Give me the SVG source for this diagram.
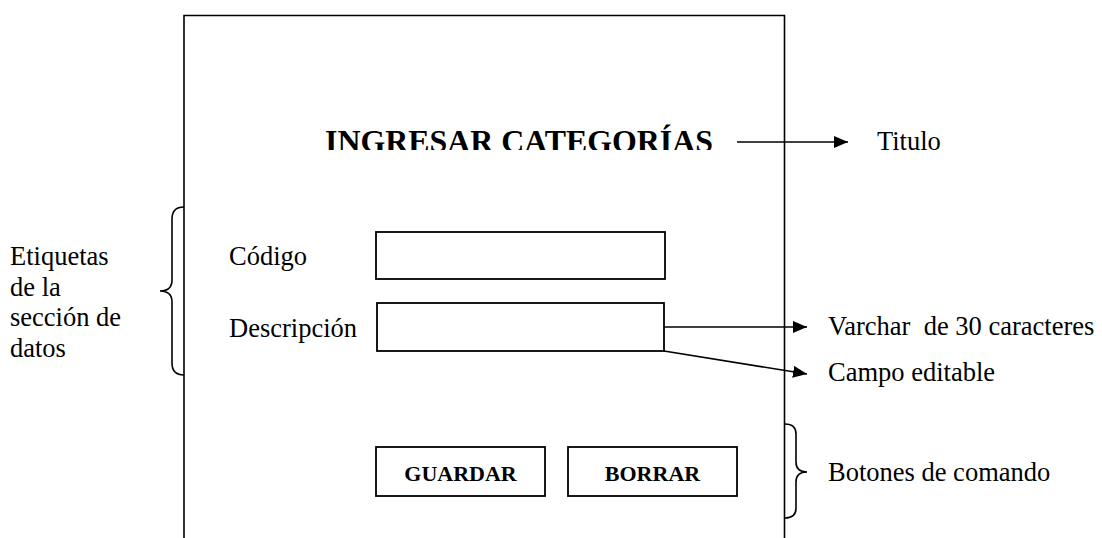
<svg xmlns="http://www.w3.org/2000/svg" width="1102" height="538" viewBox="0 0 1102 538">
<style>
.t{font-family:"Liberation Serif","Times New Roman",serif;font-size:26.5px;fill:#000}
.b{font-family:"Liberation Serif","Times New Roman",serif;font-weight:bold;fill:#000}
.box{fill:#fff;stroke:#000;stroke-width:1.8}
.ln{fill:none;stroke:#000;stroke-width:1.6}
</style>
<defs>
<marker id="ah2" viewBox="0 0 14 12" markerWidth="14" markerHeight="12" refX="14" refY="6" orient="auto" markerUnits="userSpaceOnUse"><path d="M0,0 L14,6 L0,12 Z" fill="#000"/></marker>
<clipPath id="tc"><rect x="300" y="100" width="440" height="50"/></clipPath>
</defs>
<g id="frame"><path class="ln" d="M184,538 V15.5 H784.5 V538"/></g>
<g id="title"><text class="b" x="325" y="152" font-size="32" textLength="388" lengthAdjust="spacingAndGlyphs" clip-path="url(#tc)">INGRESAR CATEGORÍAS</text></g>
<g id="label-titulo"><text class="t" x="877" y="150">Titulo</text></g>
<g id="label-etiquetas"><text class="t" x="10" y="265">Etiquetas</text><text class="t" x="10" y="296">de la</text><text class="t" x="10" y="326">sección de</text><text class="t" x="10" y="357">datos</text></g>
<g id="label-codigo"><text class="t" x="229" y="265">Código</text></g>
<g id="label-descripcion"><text class="t" x="229" y="337">Descripción</text></g>
<g id="input-codigo"><rect class="box" x="376" y="232" width="289" height="47"/></g>
<g id="input-descripcion"><rect class="box" x="377" y="303" width="287" height="48"/></g>
<g id="btn-guardar"><rect class="box" x="376" y="447" width="169" height="49"/><text class="b" x="460.5" y="481" font-size="22" text-anchor="middle">GUARDAR</text></g>
<g id="btn-borrar"><rect class="box" x="568" y="447" width="169" height="49"/><text class="b" x="652.5" y="481" font-size="22" text-anchor="middle">BORRAR</text></g>
<g id="label-varchar"><text class="t" x="828" y="335" xml:space="preserve">Varchar  de 30 caracteres</text></g>
<g id="label-campo"><text class="t" x="828" y="381">Campo editable</text></g>
<g id="label-botones"><text class="t" x="828" y="481">Botones de comando</text></g>
<g id="connectors">
<line class="ln" x1="737" y1="142" x2="848" y2="142" marker-end="url(#ah2)"/>
<line class="ln" x1="664" y1="327" x2="807" y2="327" marker-end="url(#ah2)"/>
<line class="ln" x1="664" y1="351" x2="807" y2="374" marker-end="url(#ah2)"/>
<path class="ln" d="M184,207 Q172,207 172,219 V280 Q172,291 160,291 Q172,291 172,302 V363 Q172,375 184,375"/>
<path class="ln" d="M785,424 Q796,424 796,434 V462 Q796,472 807,472 Q796,472 796,482 V508 Q796,518 785,518"/>
</g>
</svg>
